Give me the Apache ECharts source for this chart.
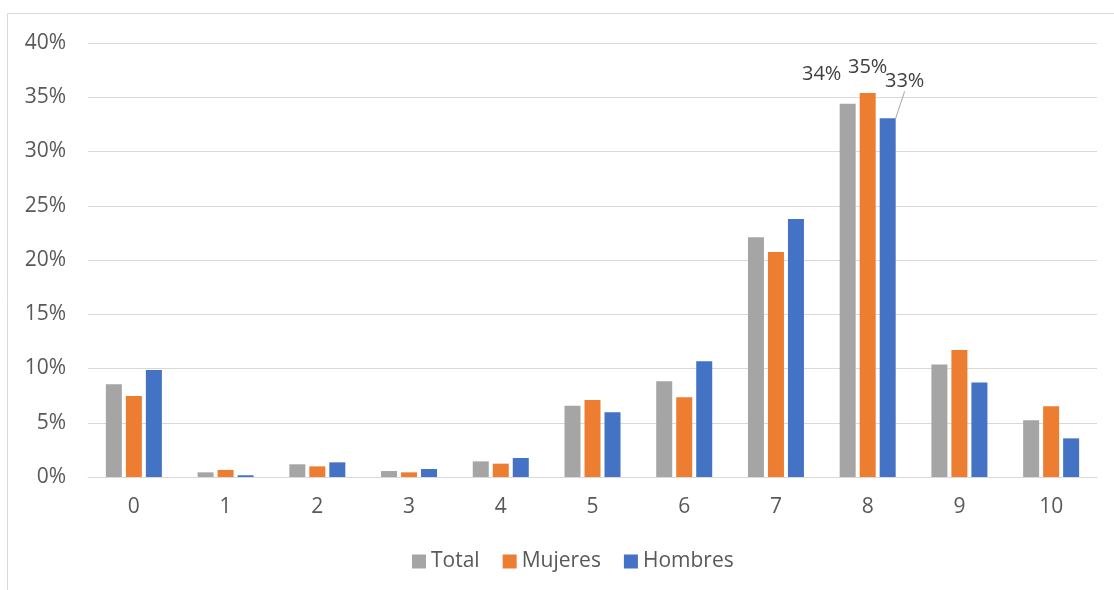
<!DOCTYPE html>
<html>
<head>
<meta charset="utf-8">
<script src="https://cdn.jsdelivr.net/npm/echarts@6/dist/echarts.min.js"></script>
<style>
html,body{margin:0;padding:0;background:#fff;}
#chart{width:1114px;height:590px;}
</style>
</head>
<body>
<div id="chart"></div>
<script>
const categories = ['0','1','2','3','4','5','6','7','8','9','10'];
const total   = [8.54, 0.43, 1.17, 0.55, 1.44, 6.57, 8.82, 22.09, 34.4, 10.38, 5.22];
const mujeres = [7.46, 0.65, 0.98, 0.43, 1.23, 7.10, 7.34, 20.74, 35.4, 11.70, 6.51];
const hombres = [9.86, 0.16, 1.35, 0.74, 1.75, 5.96, 10.66, 23.78, 33.06, 8.72, 3.56];
const yTicks = [0, 5, 10, 15, 20, 25, 30, 35, 40];
const labeledIndex = 8;

const FONT = '"Open Sans", "Noto Sans", sans-serif';
const TXT = '#595959';

function makeData(arr) {
  return arr.map((v, i) => i === labeledIndex ? { value: v, label: { show: true } } : v);
}

function series(name, arr, color, dx, dy, line) {
  return {
    name: name,
    type: 'bar',
    data: makeData(arr),
    barWidth: 16,
    barGap: '25%',
    itemStyle: { color: color },
    label: {
      show: false,
      position: 'top',
      distance: 5,
      fontFamily: FONT,
      fontSize: 20,
      color: '#404040',
      formatter: p => Math.round(p.value) + '%'
    },
    labelLayout: function (p) {
      if (p.dataIndex !== labeledIndex) return {};
      return { dx: dx, dy: dy };
    },
    labelLine: {
      show: line,
      lineStyle: { color: '#a5a5a5', width: 1 }
    }
  };
}

const chart = echarts.init(document.getElementById('chart'), null, { renderer: 'canvas' });
chart.setOption({
  backgroundColor: '#ffffff',
  animation: false,
  textStyle: { fontFamily: FONT },
  graphic: [{
    type: 'rect',
    shape: { x: 7.5, y: 13.5, width: 1200, height: 700 },
    style: { fill: 'none', stroke: '#d9d9d9', lineWidth: 1 },
    silent: true,
    z: -1
  }],
  grid: { left: 88, right: 17, top: 43, bottom: 113, containLabel: false },
  legend: {
    data: ['Total', 'Mujeres', 'Hombres'],
    bottom: 13,
    left: 407,
    itemWidth: 14,
    itemHeight: 14,
    itemGap: 23,
    icon: 'rect',
    textStyle: { fontFamily: FONT, fontSize: 21, color: TXT }
  },
  xAxis: {
    type: 'category',
    data: categories,
    axisTick: { show: false },
    axisLine: { lineStyle: { color: '#d9d9d9', width: 1 } },
    axisLabel: { fontFamily: FONT, fontSize: 21, color: TXT, margin: 20 }
  },
  yAxis: {
    type: 'value',
    min: yTicks[0],
    max: yTicks[yTicks.length - 1],
    interval: yTicks[1] - yTicks[0],
    axisLine: { show: false },
    axisTick: { show: false },
    splitLine: { lineStyle: { color: '#d9d9d9', width: 1 } },
    axisLabel: { fontFamily: FONT, fontSize: 21, color: TXT, margin: 22, formatter: '{value}%' }
  },
  series: [
    series('Total', total, '#A5A5A5', -26, -14, false),
    series('Mujeres', mujeres, '#ED7D31', 0, -11, false),
    series('Hombres', hombres, '#4472C4', 17, -22, true)
  ]
});
</script>
</body>
</html>
